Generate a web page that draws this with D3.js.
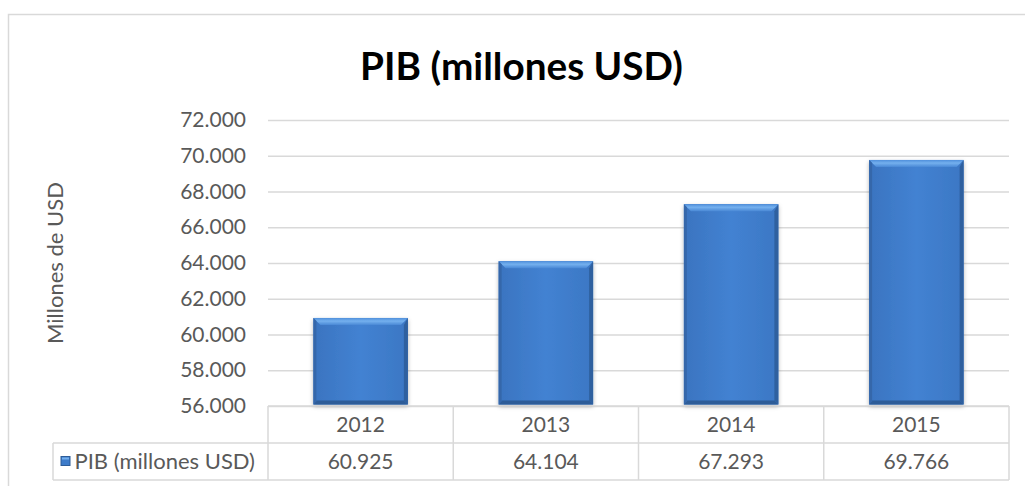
<!DOCTYPE html>
<html>
<head>
<meta charset="utf-8">
<script src="https://cdn.jsdelivr.net/npm/d3@7"></script>
<style>
  html, body { margin: 0; padding: 0; background: #fff; }
  svg { display: block; }
  text { font-family: Lato, "Open Sans", sans-serif; }
</style>
</head>
<body>
<div id="chart"></div>
<script>
// chart data
var years = ["2012", "2013", "2014", "2015"];
var pib = [60925, 64104, 67293, 69766];
var yTicks = [56000, 58000, 60000, 62000, 64000, 66000, 68000, 70000, 72000];
var seriesName = "PIB (millones USD)";
var chartTitle = "PIB (millones USD)";
var yTitle = "Millones de USD";

var width = 1025, height = 486;
var plot = {left: 268, right: 1009, top: 120, bottom: 406};
var rowH = 37;
var gridColor = "#d9d9d9", textColor = "#595959";

var es = d3.formatLocale({decimal: ",", thousands: ".", grouping: [3], currency: ["", "$"]});
var fmt = es.format(",.0f");

var svg = d3.select("#chart").append("svg")
    .attr("width", width)
    .attr("height", height);

var defs = svg.append("defs");

var body = defs.append("linearGradient").attr("id", "barBody")
    .attr("x1", 0).attr("x2", 1).attr("y1", 0).attr("y2", 0);
body.append("stop").attr("offset", "0%").attr("stop-color", "#3a74c0");
body.append("stop").attr("offset", "50%").attr("stop-color", "#4382d2");
body.append("stop").attr("offset", "100%").attr("stop-color", "#3b77c4");

var topBevel = defs.append("linearGradient").attr("id", "barTop")
    .attr("x1", 0).attr("x2", 0).attr("y1", 0).attr("y2", 1);
topBevel.append("stop").attr("offset", "0%").attr("stop-color", "#4f8fdb");
topBevel.append("stop").attr("offset", "45%").attr("stop-color", "#74b0ee");
topBevel.append("stop").attr("offset", "100%").attr("stop-color", "#4a89d6");

var shadow = defs.append("filter").attr("id", "shadow")
    .attr("x", "-10%").attr("y", "-10%").attr("width", "120%").attr("height", "125%");
shadow.append("feDropShadow").attr("dx", 0).attr("dy", 2).attr("stdDeviation", 2)
    .attr("flood-color", "#000").attr("flood-opacity", 0.3);

// outer border
svg.append("rect")
    .attr("x", 8.5).attr("y", 14.5)
    .attr("width", width + 20).attr("height", height + 20)
    .attr("fill", "none").attr("stroke", gridColor).attr("stroke-width", 1.5);

// title
var title = svg.append("text")
    .attr("x", 521.5).attr("y", 80)
    .attr("text-anchor", "middle")
    .style("font-weight", "bold")
    .style("font-size", "40px")
    .attr("fill", "#000")
    .text(chartTitle);
// fit the title width to the reference
var tw = title.node().getComputedTextLength();
title.style("font-size", (40 * 323 / tw) + "px");

// scales
var y = d3.scaleLinear().domain([56000, 72000]).range([plot.bottom, plot.top]);
var xCol = d3.scaleBand().domain(years).range([plot.left, plot.right]).padding(0);
var xBar = d3.scaleBand().domain(years).range([plot.left, plot.right])
    .paddingInner(0.49).paddingOuter(0.245);

// y axis with gridlines
var yAxis = d3.axisLeft(y)
    .tickValues(yTicks)
    .tickFormat(fmt)
    .tickSize(-(plot.right - plot.left))
    .tickPadding(22);

var yg = svg.append("g")
    .attr("transform", "translate(" + plot.left + ",0)")
    .call(yAxis);
yg.select(".domain").remove();
yg.selectAll(".tick line").attr("stroke", gridColor).attr("stroke-width", 1.5);
yg.selectAll(".tick text")
    .attr("fill", textColor)
    .style("font-size", "21px")
    .style("font-family", "Lato, 'Open Sans', sans-serif");

// y title
svg.append("text")
    .attr("transform", "translate(63," + ((plot.top + plot.bottom) / 2) + ") rotate(-90)")
    .attr("text-anchor", "middle")
    .attr("fill", textColor)
    .style("font-size", "22px")
    .text(yTitle);

// bars with bevel
var bev = 7, edge = 4;
var bars = svg.append("g").selectAll("g.bar")
    .data(years.map(function(d, i){ return {year: d, v: pib[i]}; }))
    .enter().append("g").attr("class", "bar");

bars.each(function(d){
    var g = d3.select(this);
    var x0 = xBar(d.year), x1 = x0 + xBar.bandwidth();
    var y0 = y(d.v), y1 = y(56000) - 1.5;
    g.append("rect")
        .attr("x", x0).attr("y", y0)
        .attr("width", x1 - x0).attr("height", y1 - y0)
        .attr("fill", "url(#barBody)")
        .attr("filter", "url(#shadow)");
    // top bevel
    g.append("polygon")
        .attr("points", [[x0, y0], [x1, y0], [x1 - bev, y0 + bev], [x0 + bev, y0 + bev]].join(" "))
        .attr("fill", "url(#barTop)");
    // right edge
    g.append("polygon")
        .attr("points", [[x1, y0], [x1, y1], [x1 - edge, y1 - edge], [x1 - edge, y0 + bev]].join(" "))
        .attr("fill", "#2f609f");
    // bottom edge
    g.append("polygon")
        .attr("points", [[x0, y1], [x1, y1], [x1 - edge, y1 - edge], [x0 + 3, y1 - edge]].join(" "))
        .attr("fill", "#2d5c98");
    // left edge
    g.append("polygon")
        .attr("points", [[x0, y0], [x0 + 3, y0 + 3], [x0 + 3, y1 - 3], [x0, y1]].join(" "))
        .attr("fill", "#3567aa");
});

// data table
var table = svg.append("g");
var rowTop = plot.bottom, rowMid = plot.bottom + rowH, rowBot = plot.bottom + 2 * rowH;
var legendLeft = 53;

function line(x1, y1, x2, y2){
    table.append("line")
        .attr("x1", x1).attr("y1", y1).attr("x2", x2).attr("y2", y2)
        .attr("stroke", gridColor).attr("stroke-width", 1.5);
}
line(plot.left, rowTop, plot.right, rowTop);
line(legendLeft, rowMid, plot.right, rowMid);
line(legendLeft, rowBot, plot.right, rowBot);
line(legendLeft, rowMid, legendLeft, rowBot);
xCol.domain().forEach(function(yr){
    line(xCol(yr), rowTop, xCol(yr), rowBot);
});
line(plot.right, rowTop, plot.right, rowBot);

table.selectAll("text.year")
    .data(years).enter().append("text")
    .attr("class", "year")
    .attr("x", function(d){ return xCol(d) + xCol.bandwidth() / 2; })
    .attr("y", rowTop + rowH / 2)
    .attr("dy", "0.36em")
    .attr("text-anchor", "middle")
    .attr("fill", textColor)
    .style("font-size", "21px")
    .text(function(d){ return d; });

table.selectAll("text.val")
    .data(pib).enter().append("text")
    .attr("class", "val")
    .attr("x", function(d, i){ return xCol(years[i]) + xCol.bandwidth() / 2; })
    .attr("y", rowMid + rowH / 2)
    .attr("dy", "0.36em")
    .attr("text-anchor", "middle")
    .attr("fill", textColor)
    .style("font-size", "21px")
    .text(function(d){ return fmt(d); });

// legend key + series name
table.append("rect")
    .attr("x", 61).attr("y", rowMid + rowH / 2 - 5)
    .attr("width", 9).attr("height", 9)
    .attr("fill", "#3d7bc9").attr("stroke", "#2d5c98").attr("stroke-width", 1);
table.append("rect")
    .attr("x", 62).attr("y", rowMid + rowH / 2 - 4)
    .attr("width", 7).attr("height", 2)
    .attr("fill", "#74b0ee");
table.append("text")
    .attr("x", 74.5).attr("y", rowMid + rowH / 2)
    .attr("dy", "0.36em")
    .attr("fill", textColor)
    .style("font-size", "22px")
    .text(seriesName);
</script>
</body>
</html>
